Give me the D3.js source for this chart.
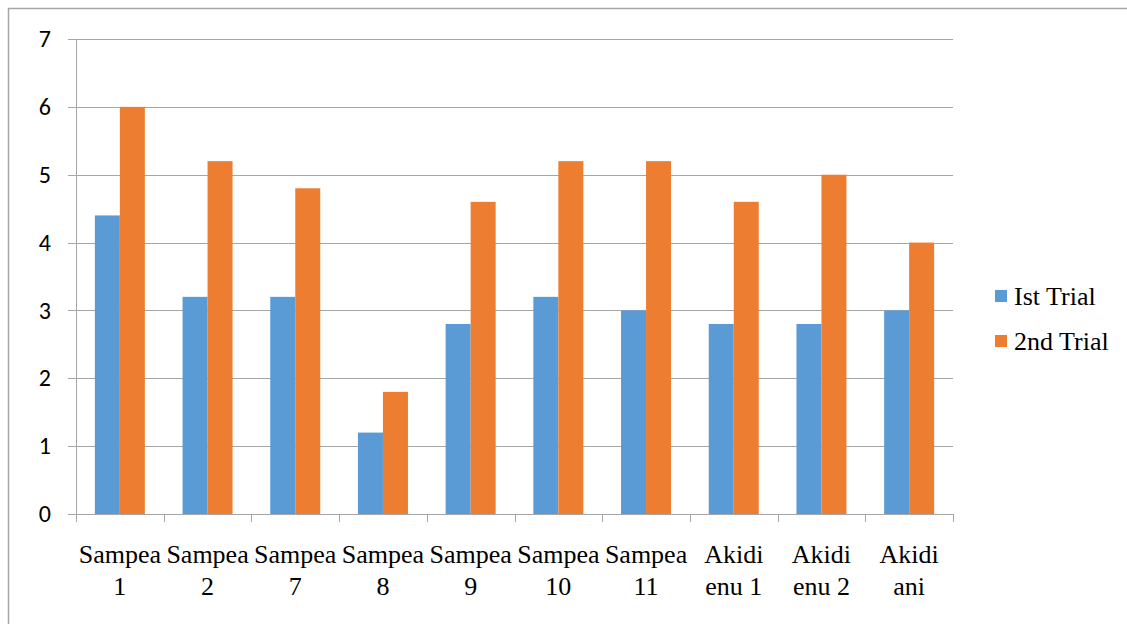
<!DOCTYPE html>
<html><head><meta charset="utf-8">
<script src="https://cdn.jsdelivr.net/npm/d3@7"></script>
<style>body{margin:0;background:#fff}svg{display:block}</style>
</head><body>
<script>
const categories = [["Sampea","1"],["Sampea","2"],["Sampea","7"],["Sampea","8"],["Sampea","9"],["Sampea","10"],["Sampea","11"],["Akidi","enu 1"],["Akidi","enu 2"],["Akidi","ani"]];
const seriesNames = ["Ist Trial","2nd Trial"];
const trial1 = [4.4,3.2,3.2,1.2,2.8,3.2,3.0,2.8,2.8,3.0];
const trial2 = [6.0,5.2,4.8,1.8,4.6,5.2,5.2,4.6,5.0,4.0];
const yTicks = [0,1,2,3,4,5,6,7];
const colors = ["#5B9BD5","#ED7D31"];

(function(){
const W=1127,H=624;
const SERIF="Liberation Serif", SANS="Carlito";
const svg=d3.select("body").append("svg").attr("width",W).attr("height",H);
svg.append("rect").attr("x",8.5).attr("y",8.5).attr("width",W+20).attr("height",H+20)
  .attr("fill","none").attr("stroke","#A6A6A6").attr("stroke-width",1.5);

const pL=76,pR=953,pT=39,pB=514;
const idx=categories.map((d,i)=>i);
const x=d3.scaleBand().domain(idx).range([pL,pR]).paddingInner(0).paddingOuter(0);
const y=d3.scaleLinear().domain([0,7]).range([pB,pT]);

svg.append("g").selectAll("line").data(yTicks).join("line")
  .attr("x1",pL-8).attr("x2",pR).attr("y1",d=>Math.round(y(d))+0.5).attr("y2",d=>Math.round(y(d))+0.5)
  .attr("stroke","#A6A6A6").attr("stroke-width",1);

svg.append("g").selectAll("text").data(yTicks).join("text")
  .attr("x",51).attr("y",d=>y(d)).attr("dy","0.34em").attr("text-anchor","end")
  .style("font-family",SANS).style("font-size","24px").attr("fill","#000")
  .text(d=>d);

const bw=25, gap=(x.bandwidth()-2*bw)/2;
[trial1,trial2].forEach((vals,s)=>{
  svg.append("g").selectAll("rect").data(vals).join("rect")
    .attr("x",(d,i)=>x(i)+gap+s*bw).attr("width",bw)
    .attr("y",d=>y(d)).attr("height",d=>pB-y(d)+0.5)
    .attr("fill",colors[s]);
});

svg.append("line").attr("x1",pL+0.5).attr("x2",pL+0.5).attr("y1",pT).attr("y2",pB+1)
  .attr("stroke","#A6A6A6");
const xticks=idx.map(i=>x(i)).concat([pR]);
svg.append("g").selectAll("line").data(xticks).join("line")
  .attr("x1",d=>Math.round(d)+0.5).attr("x2",d=>Math.round(d)+0.5).attr("y1",pB).attr("y2",pB+8)
  .attr("stroke","#A6A6A6");
svg.append("line").attr("x1",pL).attr("x2",pR).attr("y1",pB+0.5).attr("y2",pB+0.5).attr("stroke","#A6A6A6");

const xl=svg.append("g").selectAll("text").data(categories).join("text")
  .attr("text-anchor","middle").style("font-family",SERIF)
  .style("font-size","26px").attr("fill","#000");
xl.each(function(d,i){
  const t=d3.select(this);
  t.append("tspan").attr("x",x(i)+x.bandwidth()/2).attr("y",563).text(d[0]);
  t.append("tspan").attr("x",x(i)+x.bandwidth()/2).attr("y",595).text(d[1]);
});

const lg=svg.append("g");
seriesNames.forEach((n,s)=>{
  lg.append("rect").attr("x",995).attr("y",290+s*45).attr("width",12).attr("height",12).attr("fill",colors[s]);
  lg.append("text").attr("x",1014).attr("y",305+s*45).style("font-family",SERIF)
    .style("font-size","26px").attr("fill","#000").text(n);
});
})();
</script>
</body></html>
